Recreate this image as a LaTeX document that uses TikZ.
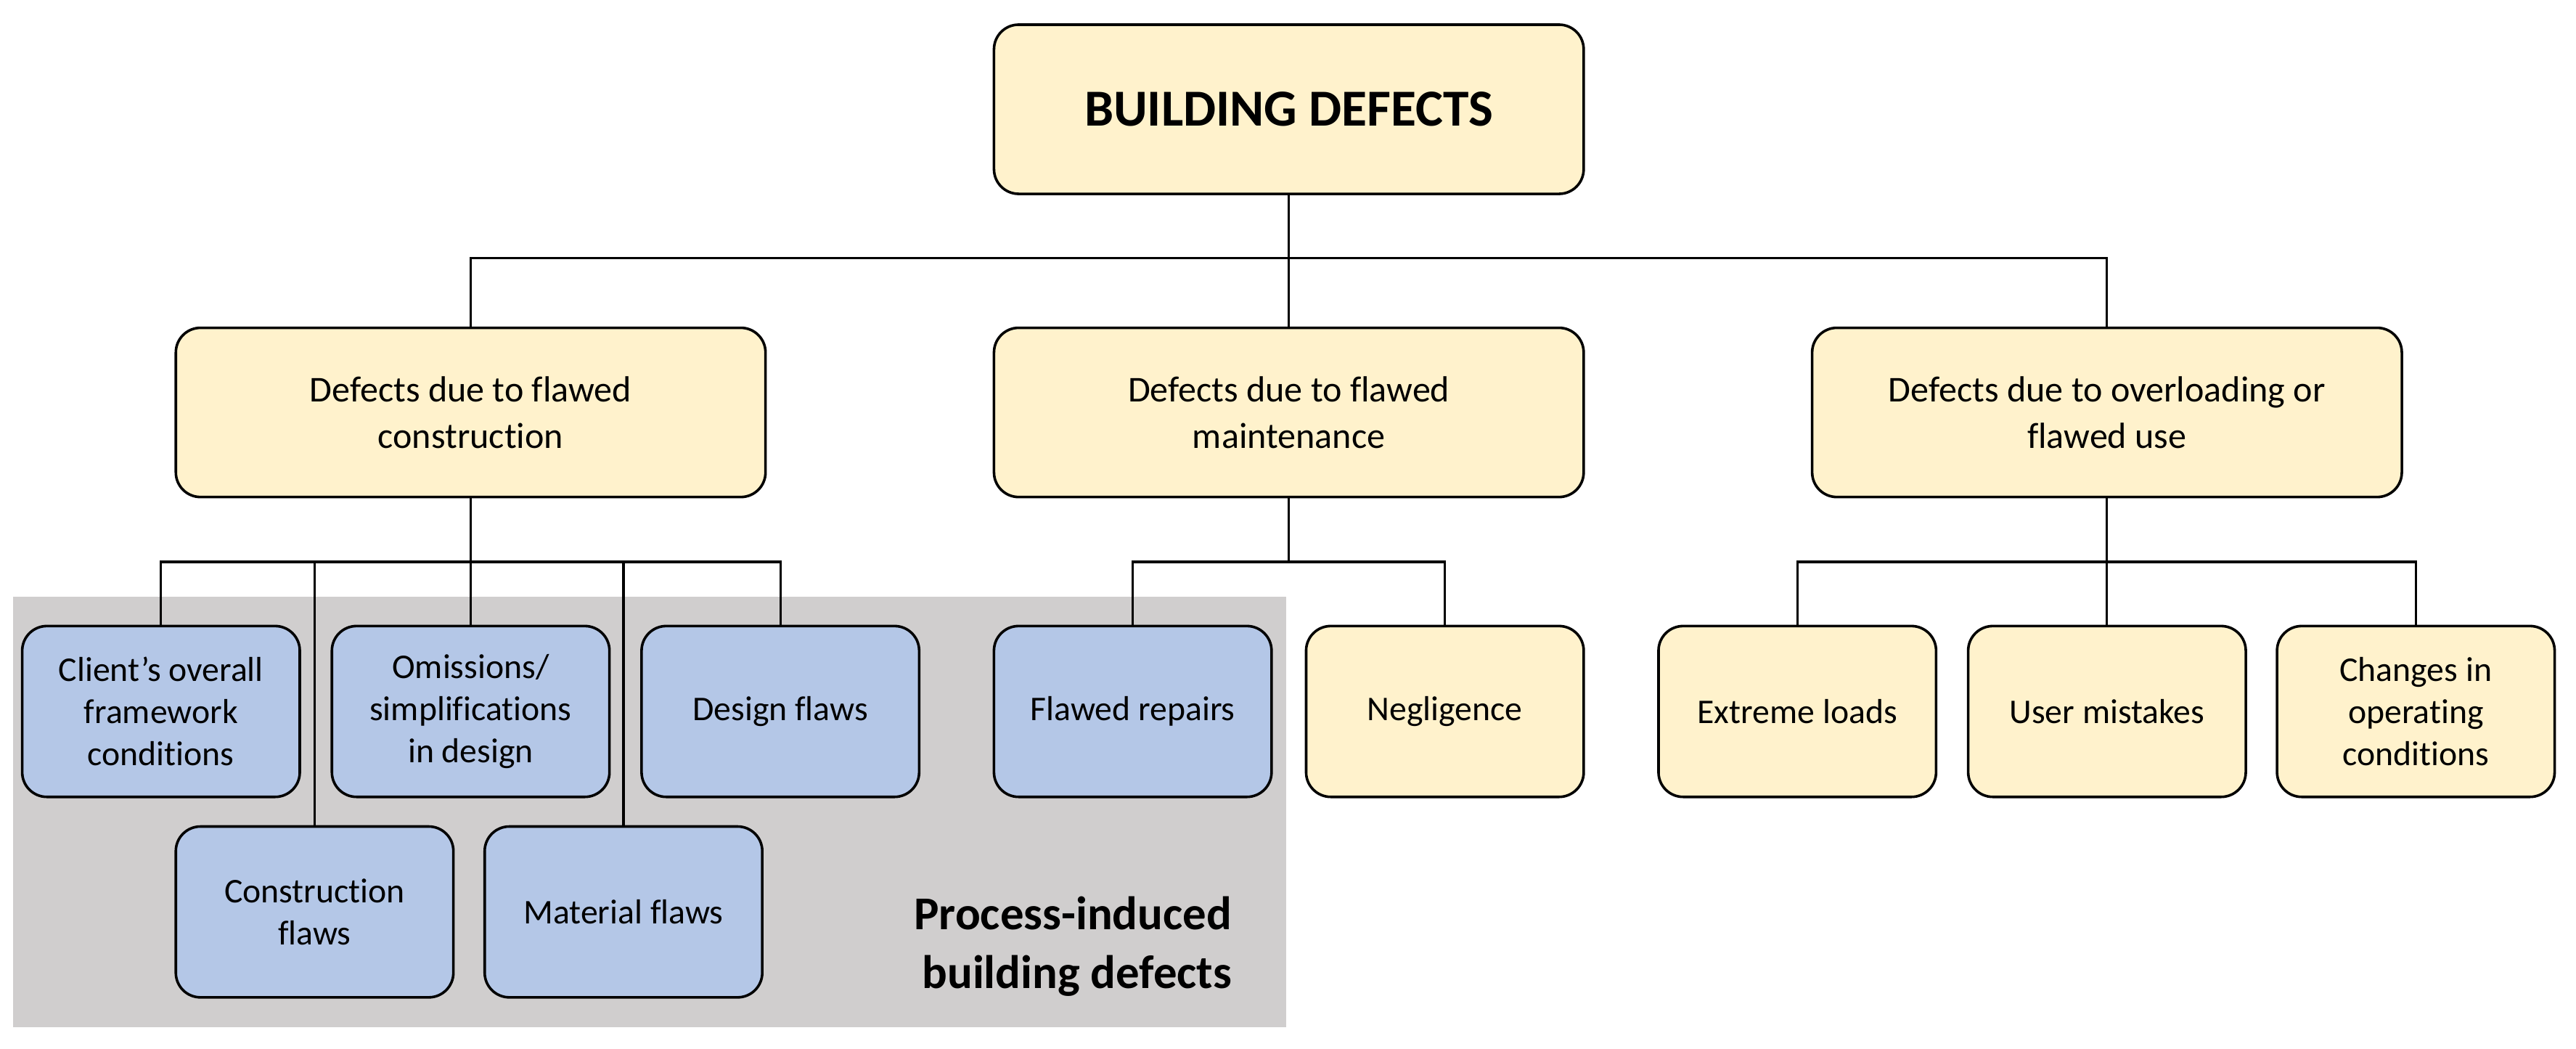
\documentclass[tikz,border=0pt]{standalone}
\usepackage{fontspec}
\setmainfont{Carlito}[Ligatures=NoCommon]
\definecolor{boxyellow}{HTML}{FFF2CC}
\definecolor{boxblue}{HTML}{B4C7E7}
\definecolor{areagray}{HTML}{D0CECE}
\tikzset{
	defect/.style={draw=black, line width=0.9pt, rounded corners=0.3cm, align=center, inner sep=2pt, font=\fontsize{12}{14.6}\selectfont},
	mainbox/.style={defect, fill=boxyellow, minimum width=7.18cm, minimum height=2.06cm, font=\fontsize{12.6}{16.2}\selectfont},
	smallbox/.style={defect, minimum width=3.38cm, minimum height=2.08cm},
	yellowbox/.style={smallbox, fill=boxyellow},
	bluebox/.style={smallbox, fill=boxblue},
	link/.style={line width=0.8pt}
}
\begin{document}
\begin{tikzpicture}[x=0.02cm,y=-0.02cm]
	\useasboundingbox (0,0) rectangle (1568,638);
	\fill[areagray] (8,363) rectangle (783,625);
	\node[anchor=east, align=right, font=\fontsize{16.3}{20.6}\selectfont\bfseries] (process) at (756,576) {Process-induced\\building defects};
	\node[mainbox, font=\fontsize{18}{22}\selectfont\bfseries] (root) at (784.5,66.5) {BUILDING DEFECTS};
	\node[mainbox] (construction) at (286.5,251) {Defects due to flawed\\construction};
	\node[mainbox] (maintenance) at (784.5,251) {Defects due to flawed\\maintenance};
	\node[mainbox] (overload) at (1282.5,251) {Defects due to overloading or\\flawed use};
	\node[bluebox] (client) at (98,433) {Client’s overall\\framework\\conditions};
	\node[bluebox] (omissions) at (286.5,433) {Omissions/\\simplifications\\in design};
	\node[bluebox] (designflaws) at (475,433) {Design flaws};
	\node[bluebox] (constructionflaws) at (191.5,555) {Construction\\flaws};
	\node[bluebox] (materialflaws) at (379.5,555) {Material flaws};
	\node[bluebox] (repairs) at (689.5,433) {Flawed repairs};
	\node[yellowbox] (negligence) at (879.5,433) {Negligence};
	\node[yellowbox] (loads) at (1094,433) {Extreme loads};
	\node[yellowbox] (mistakes) at (1282.5,433) {User mistakes};
	\node[yellowbox] (changes) at (1470.5,433) {Changes in\\operating\\conditions};
	\coordinate (bus) at (784.5,157);
	\coordinate (busA) at (286.5,342);
	\coordinate (busB) at (784.5,342);
	\coordinate (busC) at (1282.5,342);
	\draw[link] (root.south) -- (bus);
	\draw[link] (construction.north) |- (bus) -| (overload.north);
	\draw[link] (bus) -- (maintenance.north);
	\draw[link] (construction.south) -- (busA);
	\draw[link] (client.north) |- (busA) -| (designflaws.north);
	\draw[link] (busA) -- (omissions.north);
	\draw[link] (constructionflaws.north) -- (constructionflaws.north |- busA);
	\draw[link] (materialflaws.north) -- (materialflaws.north |- busA);
	\draw[link] (maintenance.south) -- (busB);
	\draw[link] (repairs.north) |- (busB) -| (negligence.north);
	\draw[link] (overload.south) -- (busC);
	\draw[link] (loads.north) |- (busC) -| (changes.north);
	\draw[link] (busC) -- (mistakes.north);
\end{tikzpicture}
\end{document}
